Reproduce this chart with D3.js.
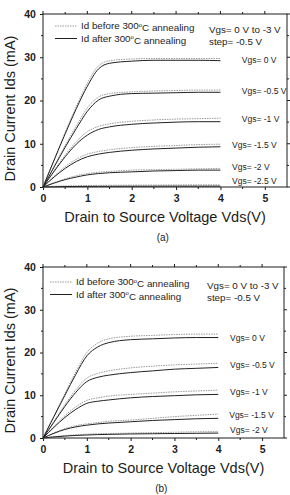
<!DOCTYPE html>
<html>
<head>
<meta charset="utf-8">
<script src="https://cdn.jsdelivr.net/npm/d3@7"></script>
<style>
  html, body { margin: 0; padding: 0; background: #fff; }
  svg { display: block; font-family: "Liberation Sans", Arial, sans-serif; }
</style>
</head>
<body>
<div id="chart"></div>
<script>
// drain voltage sample points (V)
const vds = [0, 0.25, 0.5, 0.75, 1.0, 1.25, 1.5, 2.0, 2.5, 3.0, 3.5, 4.0];

// panel (a) - Vgs 0 .. -2.5 V
const vgsLabelsA = ['Vgs= 0 V', 'Vgs= -0.5 V', 'Vgs= -1 V', 'Vgs= -1.5 V', 'Vgs= -2 V', 'Vgs= -2.5 V'];
const aBefore = [
  [0, 6.3, 12.6, 18.6, 24.0, 28.0, 29.2, 29.6, 29.7, 29.7, 29.7, 29.7],
  [0, 4.8, 9.6, 14.1, 18.3, 20.8, 21.6, 22.0, 22.2, 22.3, 22.4, 22.4],
  [0, 3.8, 7.4, 10.5, 12.8, 14.0, 14.6, 15.2, 15.5, 15.7, 15.8, 15.9],
  [0, 2.5, 4.7, 6.4, 7.6, 8.2, 8.6, 9.1, 9.4, 9.6, 9.8, 9.9],
  [0, 1.0, 1.9, 2.6, 3.1, 3.4, 3.6, 3.9, 4.0, 4.1, 4.2, 4.3],
  [0, 0.15, 0.25, 0.3, 0.35, 0.38, 0.4, 0.43, 0.45, 0.47, 0.5, 0.5]
];
const aAfter = [
  [0, 6.2, 12.3, 18.1, 23.3, 27.3, 28.6, 29.1, 29.3, 29.3, 29.3, 29.2],
  [0, 4.6, 9.2, 13.5, 17.5, 20.1, 21.0, 21.6, 21.7, 21.8, 21.9, 21.9],
  [0, 3.6, 7.0, 9.9, 12.0, 13.3, 13.9, 14.5, 14.8, 15.0, 15.1, 15.1],
  [0, 2.3, 4.3, 5.9, 7.0, 7.6, 8.0, 8.5, 8.8, 9.0, 9.2, 9.3],
  [0, 0.9, 1.7, 2.3, 2.8, 3.1, 3.3, 3.5, 3.7, 3.8, 3.9, 3.9],
  [0, 0.05, 0.1, 0.12, 0.14, 0.15, 0.16, 0.18, 0.19, 0.2, 0.2, 0.2]
];

// panel (b) - Vgs 0 .. -2 V
const vgsLabelsB = ['Vgs= 0 V', 'Vgs= -0.5 V', 'Vgs= -1 V', 'Vgs= -1.5 V', 'Vgs= -2 V'];
const bBefore = [
  [0, 5.2, 10.4, 15.5, 20.0, 22.2, 23.2, 23.8, 24.0, 24.2, 24.3, 24.3],
  [0, 3.9, 7.8, 11.3, 14.0, 15.1, 15.7, 16.4, 16.8, 17.1, 17.3, 17.5],
  [0, 2.7, 5.2, 7.3, 8.8, 9.4, 9.8, 10.2, 10.5, 10.8, 11.0, 11.2],
  [0, 1.2, 2.2, 2.9, 3.3, 3.6, 3.9, 4.2, 4.6, 5.0, 5.3, 5.6],
  [0, 0.3, 0.55, 0.75, 0.9, 1.0, 1.05, 1.15, 1.25, 1.35, 1.45, 1.5]
];
const bAfter = [
  [0, 5.0, 10.0, 14.9, 19.2, 21.3, 22.3, 23.0, 23.2, 23.4, 23.5, 23.5],
  [0, 3.7, 7.4, 10.7, 13.2, 14.2, 14.7, 15.3, 15.7, 16.1, 16.3, 16.5],
  [0, 2.5, 4.8, 6.7, 8.1, 8.6, 8.9, 9.4, 9.7, 9.9, 10.1, 10.2],
  [0, 1.1, 2.0, 2.6, 3.0, 3.3, 3.5, 3.8, 4.1, 4.3, 4.5, 4.6],
  [0, 0.25, 0.45, 0.6, 0.7, 0.8, 0.85, 0.95, 1.0, 1.05, 1.1, 1.15]
];

const xTicks = [0, 1, 2, 3, 4, 5];
const yTicks = [0, 10, 20, 30, 40];
const legendLabels = ['Id before 300', 'Id after 300'];

const ink = '#1c1c1c';
const svg = d3.select('#chart').append('svg')
  .attr('width', 290)
  .attr('height', 495);

function drawPanel(cfg) {
  const { left, top, width, height, before, after, labels, labelX, labelY, tag } = cfg;
  const g = svg.append('g').attr('transform', `translate(${left},${top})`);

  const x = d3.scaleLinear().domain([0, 5.5]).range([0, width]);
  const y = d3.scaleLinear().domain([0, 40]).range([height, 0]);

  // 边框
  g.append('rect')
    .attr('width', width).attr('height', height)
    .attr('fill', 'none').attr('stroke', ink).attr('stroke-width', 1);

  // 坐标轴 (左 / 下 外侧刻度)
  const xAxis = g.append('g').attr('transform', `translate(0,${height})`)
    .call(d3.axisBottom(x).tickValues(xTicks).tickSize(3).tickFormat(d3.format('d')));
  const yAxis = g.append('g')
    .call(d3.axisLeft(y).tickValues(yTicks).tickSize(3).tickFormat(d3.format('d')));
  [xAxis, yAxis].forEach(a => {
    a.select('.domain').remove();
    a.selectAll('line').attr('stroke', ink);
    a.selectAll('text')
      .attr('fill', ink)
      .style('font-size', '10.5px')
      .style('font-weight', 'bold')
      .style('font-family', '"Liberation Sans", Arial, sans-serif');
  });
  xAxis.selectAll('text').attr('dy', '0.85em');
  yAxis.selectAll('text').attr('dx', '-0.1em');

  // 次刻度 + 上 / 右 刻度
  const minorX = d3.range(0.5, 5.5, 1);
  const minorY = d3.range(5, 40, 10);
  g.append('g').selectAll('line').data(minorX).join('line')
    .attr('x1', d => x(d)).attr('x2', d => x(d))
    .attr('y1', height).attr('y2', height + 2).attr('stroke', ink);
  g.append('g').selectAll('line').data(minorY).join('line')
    .attr('x1', 0).attr('x2', -2)
    .attr('y1', d => y(d)).attr('y2', d => y(d)).attr('stroke', ink);
  g.append('g').selectAll('line').data(xTicks.concat(minorX)).join('line')
    .attr('x1', d => x(d)).attr('x2', d => x(d))
    .attr('y1', 0).attr('y2', d => Number.isInteger(d) ? -3 : -2).attr('stroke', ink);
  g.append('g').selectAll('line').data(yTicks.concat(minorY)).join('line')
    .attr('x1', width).attr('x2', d => d % 10 === 0 ? width + 3 : width + 2)
    .attr('y1', d => y(d)).attr('y2', d => y(d)).attr('stroke', ink);

  const line = d3.line()
    .x((d, i) => x(vds[i]))
    .y(d => y(d))
    .curve(d3.curveMonotoneX);

  // 退火前 (浅灰点线)
  g.append('g').selectAll('path').data(before).join('path')
    .attr('d', line)
    .attr('fill', 'none')
    .attr('stroke', '#9a9a9a')
    .attr('stroke-width', 1)
    .attr('stroke-dasharray', '1.5,1');

  // 退火后 (深色实线)
  g.append('g').selectAll('path').data(after).join('path')
    .attr('d', line)
    .attr('fill', 'none')
    .attr('stroke', '#222')
    .attr('stroke-width', 1);

  // Vgs 标注
  g.append('g').selectAll('text').data(labels).join('text')
    .attr('x', (d, i) => x(labelX[i]))
    .attr('y', (d, i) => y(labelY[i]))
    .attr('dy', '0.35em')
    .attr('fill', ink)
    .style('font-size', '8.5px')
    .text(d => d);

  // 图例
  const legend = g.append('g');
  legendLabels.forEach((t, i) => {
    const ly = cfg.legendY + i * 12.5;
    legend.append('line')
      .attr('x1', cfg.legendX).attr('x2', cfg.legendX + 22)
      .attr('y1', ly).attr('y2', ly)
      .attr('stroke', i === 0 ? '#9a9a9a' : '#222')
      .attr('stroke-dasharray', i === 0 ? '1.5,1' : null);
    const txt = legend.append('text')
      .attr('x', cfg.legendX + 26).attr('y', ly)
      .attr('dy', '0.35em')
      .attr('fill', ink)
      .style('font-size', '9.8px');
    txt.append('tspan').text(t);
    txt.append('tspan').attr('dy', '-0.45em').style('font-size', '6px').text('o');
    txt.append('tspan').attr('dy', '0.45em').text('C annealing');
  });
  g.append('text')
    .attr('x', cfg.noteX).attr('y', cfg.legendY + 4)
    .attr('dy', '0.35em').attr('fill', ink)
    .style('font-size', '9.8px')
    .text('Vgs= 0 V to -3 V');
  g.append('text')
    .attr('x', cfg.noteX).attr('y', cfg.legendY + 15.5)
    .attr('dy', '0.35em').attr('fill', ink)
    .style('font-size', '9.8px')
    .text('step= -0.5 V');

  // 轴标题
  g.append('text')
    .attr('transform', `translate(${-left + 10},${height / 2 + 8}) rotate(-90)`)
    .attr('text-anchor', 'middle')
    .attr('dy', '0.35em')
    .attr('fill', ink)
    .style('font-size', '14.5px')
    .text('Drain Current Ids (mA)');
  g.append('text')
    .attr('x', x(2.75)).attr('y', height + 30)
    .attr('text-anchor', 'middle')
    .attr('dy', '0.35em')
    .attr('fill', ink)
    .style('font-size', '14.5px')
    .text('Drain to Source Voltage Vds(V)');
  g.append('text')
    .attr('x', x(2.7)).attr('y', height + 50)
    .attr('text-anchor', 'middle')
    .attr('dy', '0.35em')
    .attr('fill', ink)
    .style('font-size', '10px')
    .text(tag);
}

drawPanel({
  left: 43, top: 14, width: 244, height: 173,
  before: aBefore, after: aAfter, labels: vgsLabelsA,
  labelX: [4.48, 4.48, 4.48, 4.26, 4.26, 4.26],
  labelY: [29.3, 22.2, 15.7, 9.7, 4.7, 1.4],
  legendX: 12, legendY: 12, noteX: 166, tag: '(a)'
});

drawPanel({
  left: 43, top: 267, width: 241, height: 171,
  before: bBefore, after: bAfter, labels: vgsLabelsB,
  labelX: [4.27, 4.27, 4.27, 4.25, 4.27],
  labelY: [23.5, 17.1, 10.8, 5.4, 1.9],
  legendX: 7, legendY: 15, noteX: 164, tag: '(b)'
});
</script>
</body>
</html>
